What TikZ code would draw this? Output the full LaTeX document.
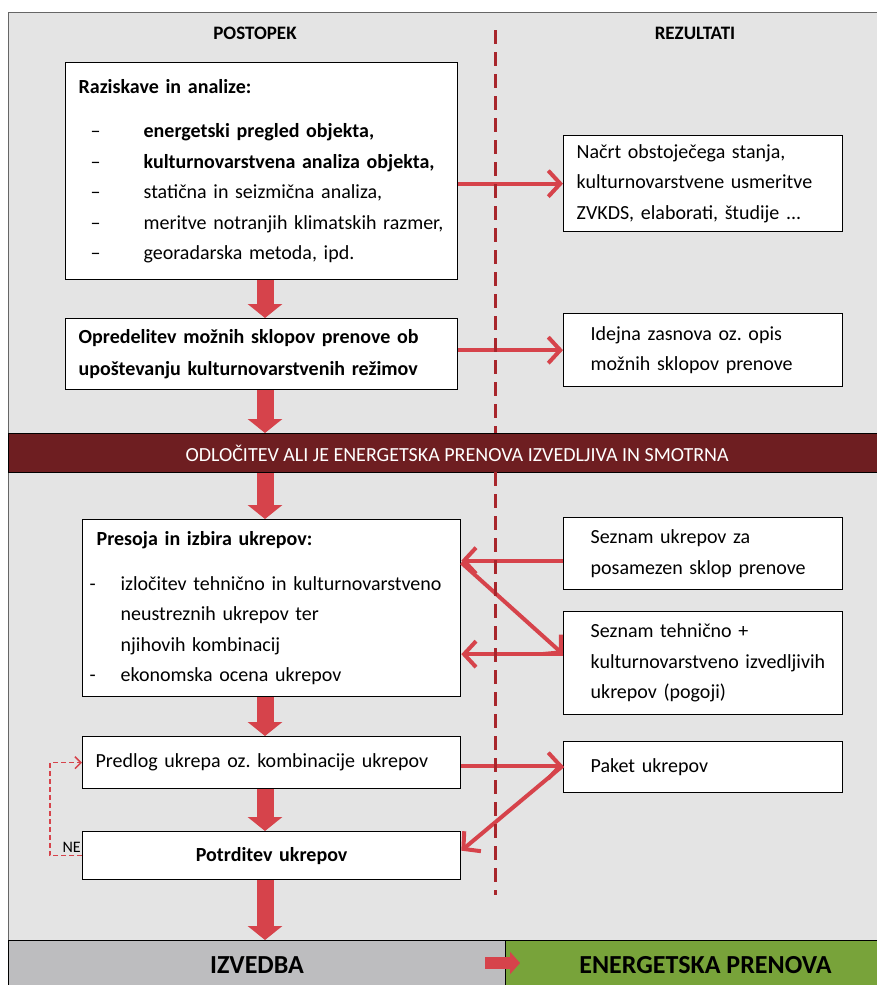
\documentclass[tikz,border=0pt]{standalone}
\usepackage{fontspec}
\setmainfont{Carlito}
\usetikzlibrary{arrows.meta}
\definecolor{bgGray}{HTML}{E4E4E4}
\definecolor{arrowRed}{HTML}{D6434B}
\definecolor{bandRed}{HTML}{6E1E21}
\definecolor{lineRed}{HTML}{A8262C}
\definecolor{doneGray}{HTML}{BDBDBF}
\definecolor{doneGreen}{HTML}{78A33A}
\tikzset{
  box/.style={draw=black,line width=1.3pt,fill=white,anchor=north west,align=left,
    inner xsep=13pt,inner ysep=0pt,font=\fontsize{20}{30.5}\selectfont},
  resultbox/.style={box,minimum width=279pt,text width=253pt,
    execute at begin node={\leftskip=14pt\relax}},
  head/.style={font=\fontsize{19}{22}\selectfont\bfseries},
  flowarrow/.style={draw=arrowRed,line width=17pt,-{Triangle[length=14pt,width=34pt]}},
  linkarrow/.style={draw=arrowRed,line width=4pt,-{Straight Barb[length=12pt,width=26pt]}},
  loopline/.style={draw=arrowRed,line width=1.5pt,dash pattern=on 5pt off 3pt,
    -{Straight Barb[length=6pt,width=12pt]}},
  divider/.style={draw=lineRed,line width=3pt,dash pattern=on 14pt off 8pt},
}
\newcommand{\dashitem}[2]{\makebox[#1][l]{\hspace{12pt}#2}}
\frenchspacing

\begin{document}
\begin{tikzpicture}[x=1pt,y=-1pt]
	%CANVAS
	\useasboundingbox[fill=white] (0,0) rectangle (877,985);
	\fill[bgGray] (8,12) rectangle (905,985);
	\draw[black!60,line width=1pt] (8,985) -- (8,12) -- (905,12);
	\coordinate (axis) at (265,0);
	
	%HEADERS
	\node[head] (postopek) at (255,33) {POSTOPEK};
	\node[head] (rezultati) at (695,33) {REZULTATI};
	
	%PROCESS BOXES
	\node[box,minimum width=392pt,minimum height=217pt,text width=366pt] (survey) at (65,62)
	{\textbf{Raziskave in analize:}\\[14pt]
	 \dashitem{65pt}{--}\textbf{energetski pregled objekta,}\\
	 \dashitem{65pt}{--}\textbf{kulturnovarstvena analiza objekta,}\\
	 \dashitem{65pt}{--}statična in seizmična analiza,\\
	 \dashitem{65pt}{--}meritve notranjih klimatskih razmer,\\
	 \dashitem{65pt}{--}georadarska metoda, ipd.};
	\node[box,minimum width=392pt,minimum height=71pt,text width=366pt,
	      font=\fontsize{20}{32}\selectfont\bfseries] (options) at (65,318)
	{Opredelitev možnih sklopov prenove ob\\upoštevanju kulturnovarstvenih režimov};
	\node[box,inner xsep=7pt,minimum width=378pt,minimum height=177pt,text width=364pt] (assess) at (82,519)
	{\hspace{7pt}\textbf{Presoja in izbira ukrepov:}\\[14pt]
	 \makebox[31pt][l]{-}izločitev tehnično in kulturnovarstveno\\
	 \hspace{31pt}neustreznih ukrepov ter\\
	 \hspace{31pt}njihovih kombinacij\\
	 \makebox[31pt][l]{-}ekonomska ocena ukrepov};
	\node[box,minimum width=378pt,minimum height=52pt,text width=352pt] (proposal) at (82,736)
	{Predlog ukrepa oz. kombinacije ukrepov};
	\node[box,align=center,minimum width=378pt,minimum height=48pt,text width=352pt,
	      font=\fontsize{20}{30}\selectfont\bfseries] (confirm) at (82,831)
	{Potrditev ukrepov};
	
	%RESULT BOXES
	\node[box,minimum width=279pt,minimum height=96pt,text width=253pt] (plan) at (563,135)
	{Načrt obstoječega stanja,\\kulturnovarstvene usmeritve\\ZVKDS, elaborati, študije ...};
	\node[resultbox,minimum height=73pt] (concept) at (563,313)
	{Idejna zasnova oz. opis\\možnih sklopov prenove};
	\node[resultbox,minimum height=72pt] (list) at (563,517)
	{Seznam ukrepov za\\posamezen sklop prenove};
	\node[resultbox,minimum height=103pt] (feasible) at (563,611)
	{Seznam tehnično +\\kulturnovarstveno izvedljivih\\ukrepov (pogoji)};
	\node[resultbox,minimum height=51pt] (package) at (563,741)
	{Paket ukrepov};
	
	%BANDS
	\node[draw=black,line width=1.3pt,fill=bandRed,text=white,anchor=north west,
	      minimum width=897pt,minimum height=39pt,font=\fontsize{20}{22}\selectfont] (decision) at (8,433)
	{ODLOČITEV ALI JE ENERGETSKA PRENOVA IZVEDLJIVA IN SMOTRNA};
	\node[draw=black,line width=1pt,fill=doneGray,anchor=north west,minimum width=497pt,
	      minimum height=50pt,font=\fontsize{26}{28}\selectfont\bfseries] (izvedba) at (8,940) {IZVEDBA};
	\node[draw=black,line width=1pt,fill=doneGreen,anchor=north west,minimum width=400pt,
	      minimum height=50pt,font=\fontsize{26}{28}\selectfont\bfseries] (prenova) at (505,940) {ENERGETSKA PRENOVA};
	\coordinate (handoff) at (505,963);
	
	%FLOW ARROWS
	\draw[flowarrow] (survey.south -| axis) -- (options.north -| axis);
	\draw[flowarrow] (options.south -| axis) -- (decision.north -| axis);
	\draw[flowarrow] (decision.south -| axis) -- (assess.north -| axis);
	\draw[flowarrow] (assess.south -| axis) -- (proposal.north -| axis);
	\draw[flowarrow] (proposal.south -| axis) -- (confirm.north -| axis);
	\draw[flowarrow] (confirm.south -| axis) -- (izvedba.north -| axis);
	\draw[draw=arrowRed,line width=12pt,-{Triangle[length=10pt,width=22pt]}] ([xshift=-20pt]handoff) -- ([xshift=15pt]handoff);
	
	%LINK ARROWS
	\draw[linkarrow] (survey.east |- plan.west) -- (plan.west);
	\draw[linkarrow] (options.east |- concept.west) -- (concept.west);
	\draw[linkarrow] ([yshift=-7pt]list.west) -- ([yshift=-7pt]assess.east |- list.west);
	\draw[linkarrow] ([yshift=-9pt]assess.east |- list.west) -- ([yshift=9pt]feasible.west);
	\draw[linkarrow] ([yshift=9pt]feasible.west) -- ([yshift=9pt]assess.east |- feasible.west);
	\draw[linkarrow] ([yshift=-3pt]proposal.east) -- ([yshift=-3pt]proposal.east -| package.west);
	\draw[linkarrow] ([yshift=-3pt]proposal.east -| package.west) -- ([yshift=5pt]confirm.east);
	
	%LOOP
	\draw[loopline] (confirm.west) -- ++(-32,0) |- (proposal.west);
	\node[font=\fontsize{16}{18}\selectfont,inner sep=1pt,anchor=south east] (ne) at ([yshift=2pt]confirm.west) {NE};
	
	%DIVIDER
	\draw[divider] (495,30) -- (495,433);
	\draw[divider] (495,472) -- (495,895);
\end{tikzpicture}
\end{document}
